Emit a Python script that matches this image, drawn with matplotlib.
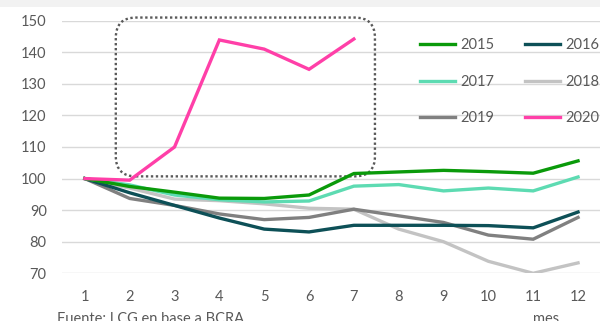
import matplotlib
matplotlib.use("Agg")
import matplotlib.pyplot as plt
from matplotlib.patches import FancyBboxPatch, Rectangle

plt.rcParams['font.family'] = ['Lato', 'DejaVu Sans']

months = [1, 2, 3, 4, 5, 6, 7, 8, 9, 10, 11, 12]
s2015 = [100, 97.5, 95.7, 93.8, 93.7, 94.8, 101.6, 102.1, 102.6, 102.2, 101.7, 105.6]
s2016 = [100, 95.5, 91.5, 87.5, 84.0, 83.1, 85.2, 85.2, 85.2, 85.1, 84.4, 89.4]
s2017 = [100, 98.0, 94.8, 93.3, 92.6, 92.9, 97.6, 98.1, 96.1, 97.0, 96.1, 100.5]
s2018 = [100, 97.0, 93.5, 93.0, 92.0, 90.6, 90.3, 84.0, 80.0, 73.8, 70.0, 73.3]
s2019 = [100, 93.7, 91.5, 88.8, 87.0, 87.7, 90.3, 88.2, 86.1, 82.1, 80.8, 87.7]
months_2020 = [1, 2, 3, 4, 5, 6, 7]
s2020 = [100, 99.5, 110.0, 143.9, 141.0, 134.6, 144.2]

series = [
    ("2018", months, s2018, "#c3c3c3"),
    ("2019", months, s2019, "#808080"),
    ("2016", months, s2016, "#0d5057"),
    ("2017", months, s2017, "#5ddbb2"),
    ("2015", months, s2015, "#0a9a0a"),
    ("2020", months_2020, s2020, "#ff3fa8"),
]
yticks = [70, 80, 90, 100, 110, 120, 130, 140, 150]

W, H = 605, 321
fig = plt.figure(figsize=(W / 100, H / 100), dpi=100)
fig.patches.append(Rectangle((0, 1 - 7 / H), 600 / W, 7 / H, transform=fig.transFigure,
                             facecolor="#f2f2f2", edgecolor="none", zorder=0))

ax = fig.add_axes([62 / W, 1 - 273.3 / H, (600 - 62) / W, (273.3 - 20.7) / H])
handles = {}
for name, xs, ys, col in series:
    ln, = ax.plot(xs, ys, color=col, lw=2.4, solid_joinstyle='miter', zorder=3)
    handles[name] = ln

ax.set_xlim(0.49, 12.49)
ax.set_ylim(70, 150)
ax.set_yticks(yticks)
ax.set_xticks(months)
for s in ax.spines.values():
    s.set_visible(False)
ax.grid(axis='y', color="#d9d9d9", lw=1.0)
ax.set_axisbelow(True)
ax.tick_params(axis='both', length=0, labelsize=10.5, labelcolor="#595959")
ax.tick_params(axis='y', pad=11)
ax.tick_params(axis='x', pad=12)

box = FancyBboxPatch((1.69, 100.7), 7.47 - 1.69, 151 - 100.7,
                     boxstyle="round,pad=0,rounding_size=0.45", mutation_aspect=14.2,
                     facecolor="none", edgecolor="#595959", lw=1.7,
                     linestyle=(0, (1, 1.1)), clip_on=False, zorder=2)
ax.add_patch(box)

order = ["2015", "2017", "2019", "2016", "2018", "2020"]
leg = ax.legend([handles[k] for k in order], order, ncol=2, loc='upper left',
                bbox_to_anchor=(420 / W, 1 - 38 / H), bbox_transform=fig.transFigure,
                frameon=False, fontsize=10.5, handlelength=2.4, handletextpad=0.35,
                columnspacing=2.1, labelspacing=1.55, borderpad=0, borderaxespad=0)
for t in leg.get_texts():
    t.set_color("#595959")

fig.text(57 / W, 1 - 312 / H, "Fuente: LCG en base a BCRA", fontsize=10.5,
         color="#595959", va='top', ha='left')
fig.text(533 / W, 1 - 312 / H, "mes", fontsize=10.5, color="#595959", va='top', ha='left')

fig.savefig("out.png", dpi=100)
